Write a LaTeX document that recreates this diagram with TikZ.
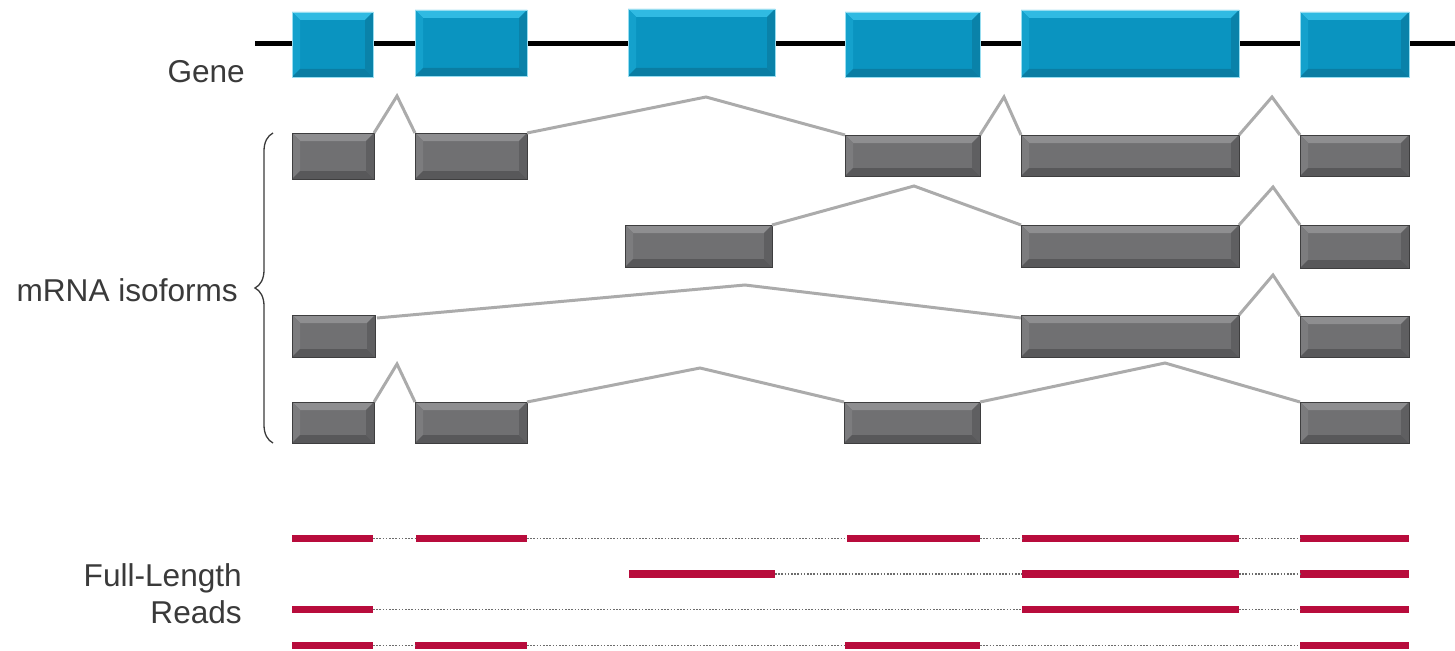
\documentclass[tikz,border=0pt]{standalone}
\usepackage{fontspec}
\setmainfont{Liberation Sans}
\usetikzlibrary{decorations.pathreplacing}

\definecolor{exonblue}{HTML}{0A94C0}
\definecolor{exonbluelight}{HTML}{30BAE2}
\definecolor{exonblueside}{HTML}{14A1CC}
\definecolor{exonbluedark}{HTML}{0A7DA3}
\definecolor{exongrey}{HTML}{707072}
\definecolor{exongreylight}{HTML}{8E8E90}
\definecolor{exongreyside}{HTML}{7C7C7E}
\definecolor{exongreydark}{HTML}{58585A}
\definecolor{introngrey}{HTML}{ABABAB}
\definecolor{readred}{HTML}{B80C3C}
\definecolor{labelgrey}{HTML}{3A3A3A}

% beveled box: #1 top, #2 left, #3 bottom, #4 right
\tikzset{
  bevel/.style n args={4}{path picture={
    \fill[#1] (path picture bounding box.north west) -- (path picture bounding box.north east)
      -- ++(-8pt,-8pt) -- ([xshift=8pt,yshift=-8pt]path picture bounding box.north west) -- cycle;
    \fill[#2] (path picture bounding box.north west) -- ++(8pt,-8pt)
      -- ([xshift=8pt,yshift=8pt]path picture bounding box.south west) -- (path picture bounding box.south west) -- cycle;
    \fill[#3] (path picture bounding box.south west) -- (path picture bounding box.south east)
      -- ++(-8pt,8pt) -- ([xshift=8pt,yshift=8pt]path picture bounding box.south west) -- cycle;
    \fill[#4] (path picture bounding box.north east) -- ++(-8pt,-8pt)
      -- ([xshift=-8pt,yshift=8pt]path picture bounding box.south east) -- (path picture bounding box.south east) -- cycle;
  }},
  gene/.style={inner sep=0, outer sep=0, fill=exonblue, draw=exonbluelight!50!white, line width=0.8pt,
    bevel={exonbluelight}{exonblueside}{exonbluedark}{exonbluedark!80!exonblue}},
  iso/.style={inner sep=0, outer sep=0, fill=exongrey, draw=exongreydark!70!black, line width=0.8pt,
    bevel={exongreylight}{exongreyside}{exongreydark}{exongreydark!70!exongrey}},
  read/.style={inner sep=0, outer sep=0, fill=readred},
  intron/.style={introngrey, line width=3pt, line join=miter},
  gap/.style={gray!85!black, line width=1.6pt, dash pattern=on 1.6pt off 1.6pt},
  backbone/.style={black, line width=5pt},
  label/.style={labelgrey, font=\fontsize{31.6}{37}\selectfont, inner sep=0},
}

% box node from its corners: style, name, x1, y1, x2, y2
\newcommand\exonbox[6]{%
  \node[#1, minimum width={(#5-#3)*1pt}, minimum height={(#6-#4)*1pt}] (#2) at ({(#3+#5)/2},{(#4+#6)/2}) {};}

\begin{document}
\begin{tikzpicture}[x=1pt, y=-1pt]
    \useasboundingbox (0,0) rectangle (1455,650);

    % gene
    \coordinate (gstart) at (255,44);
    \coordinate (gend) at (1455,44);
    \draw[backbone] (gstart) -- (gend);
    \exonbox{gene}{g1}{292}{12}{373}{77}
    \exonbox{gene}{g2}{415}{10}{527}{76}
    \exonbox{gene}{g3}{628}{9}{775}{76}
    \exonbox{gene}{g4}{845}{12}{980}{77}
    \exonbox{gene}{g5}{1021}{10}{1239}{77}
    \exonbox{gene}{g6}{1300}{12}{1409}{77}
    \node[label, anchor=east] (genelbl) at (245,72) {Gene};

    % isoform 1
    \exonbox{iso}{a1}{292}{133}{374}{179}
    \exonbox{iso}{a2}{415}{133}{527}{179}
    \exonbox{iso}{a3}{845}{135}{980}{176}
    \exonbox{iso}{a4}{1021}{135}{1239}{176}
    \exonbox{iso}{a5}{1300}{135}{1409}{176}
    \draw[intron] (a1.north east) -- (397,96) -- (a2.north west);
    \draw[intron] (a2.north east) -- (706,97) -- (a3.north west);
    \draw[intron] (a3.north east) -- (1004,97) -- (a4.north west);
    \draw[intron] (a4.north east) -- (1272,97) -- (a5.north west);

    % isoform 2
    \exonbox{iso}{b1}{625}{225}{772}{267}
    \exonbox{iso}{b2}{1021}{225}{1239}{267}
    \exonbox{iso}{b3}{1300}{225}{1409}{268}
    \draw[intron] (b1.north east) -- (914,186) -- (b2.north west);
    \draw[intron] (b2.north east) -- (1273,187) -- (b3.north west);

    % isoform 3
    \exonbox{iso}{c1}{292}{315}{375}{357}
    \exonbox{iso}{c2}{1021}{315}{1239}{357}
    \exonbox{iso}{c3}{1300}{316}{1409}{357}
    \draw[intron] ([xshift=2pt,yshift=-3pt]c1.north east) -- (745,285) -- ([yshift=-3pt]c2.north west);
    \draw[intron] (c2.north east) -- (1273,275) -- (c3.north west);

    % isoform 4
    \exonbox{iso}{d1}{292}{402}{374}{443}
    \exonbox{iso}{d2}{415}{402}{527}{443}
    \exonbox{iso}{d3}{844}{402}{980}{443}
    \exonbox{iso}{d4}{1300}{402}{1409}{443}
    \draw[intron] (d1.north east) -- (397,364) -- (d2.north west);
    \draw[intron] (d2.north east) -- (700,368) -- (d3.north west);
    \draw[intron] (d3.north east) -- (1165,363) -- (d4.north west);

    \draw[labelgrey, line width=1.3pt, decorate, decoration={brace, amplitude=18pt}]
        (273,443) -- (273,133);
    \node[label, anchor=east] (isolbl) at (238,290) {mRNA isoforms};

    % reads
    \exonbox{read}{r1}{292}{535}{373}{542}
    \exonbox{read}{r2}{416}{535}{527}{542}
    \exonbox{read}{r3}{847}{535}{980}{542}
    \exonbox{read}{r4}{1022}{535}{1239}{542}
    \exonbox{read}{r5}{1300}{535}{1409}{542}
    \draw[gap] (r1.east) -- (r2.west) (r2.east) -- (r3.west) (r3.east) -- (r4.west) (r4.east) -- (r5.west);

    \exonbox{read}{s1}{629}{570}{775}{578}
    \exonbox{read}{s2}{1022}{570}{1239}{578}
    \exonbox{read}{s3}{1300}{570}{1409}{578}
    \draw[gap] (s1.east) -- (s2.west) (s2.east) -- (s3.west);

    \exonbox{read}{t1}{292}{606}{373}{613}
    \exonbox{read}{t2}{1022}{606}{1239}{613}
    \exonbox{read}{t3}{1300}{606}{1409}{613}
    \draw[gap] (t1.east) -- (t2.west) (t2.east) -- (t3.west);

    \exonbox{read}{u1}{292}{642}{373}{649}
    \exonbox{read}{u2}{415}{642}{527}{649}
    \exonbox{read}{u3}{845}{642}{980}{649}
    \exonbox{read}{u4}{1300}{642}{1409}{649}
    \draw[gap] (u1.east) -- (u2.west) (u2.east) -- (u3.west) (u3.east) -- (u4.west);

    \node[label, anchor=east, align=right] (readlbl) at (242,594) {Full-Length\\Reads};

\end{tikzpicture}
\end{document}
